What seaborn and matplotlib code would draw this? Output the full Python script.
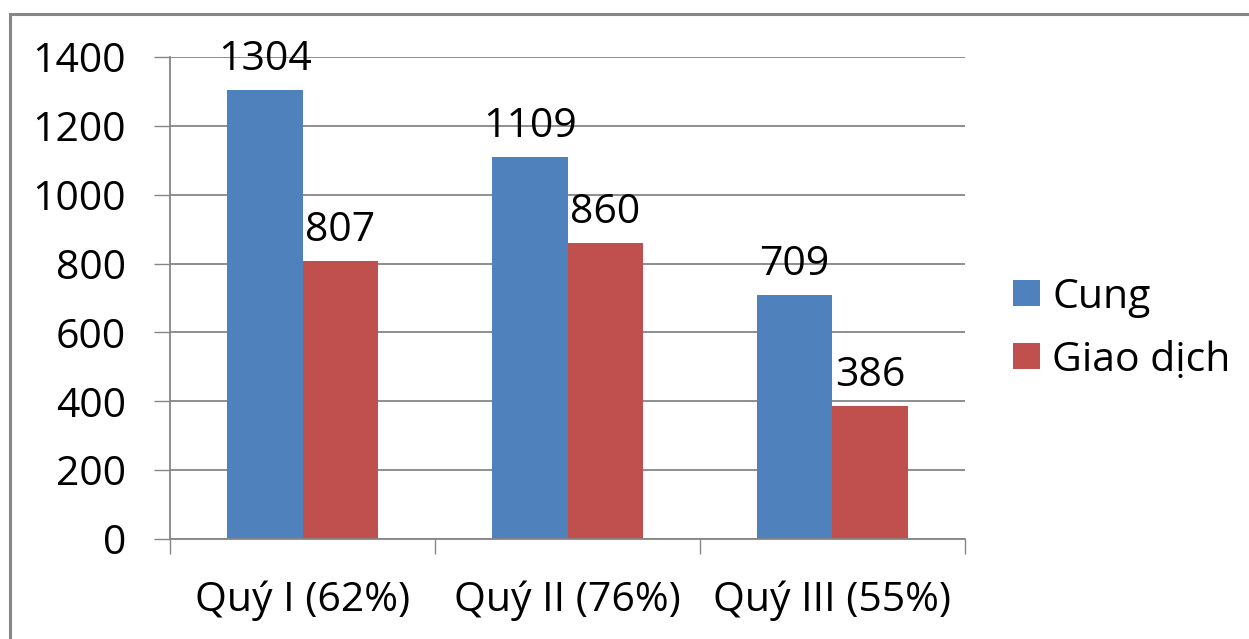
import numpy as np
import pandas as pd
import matplotlib as mplt
import matplotlib.pyplot as plt
import matplotlib.patches as mpatches
import seaborn as sns

# data
quarters = ['Quý I (62%)', 'Quý II (76%)', 'Quý III (55%)']
series = ['Cung', 'Giao dịch']
cung = [1304, 1109, 709]
giao_dich = [807, 860, 386]
colors = {'Cung': '#4F81BD', 'Giao dịch': '#C0504D'}

df = pd.DataFrame({
    'Quý': quarters * 2,
    'Loại': [series[0]] * 3 + [series[1]] * 3,
    'Số lượng': cung + giao_dich,
})

sns.set_style('white')
font_size = 29.5
mplt.rcParams['font.family'] = ['Open Sans', 'DejaVu Sans']
mplt.rcParams['font.size'] = font_size
mplt.rcParams['text.color'] = 'black'
mplt.rcParams['xtick.labelcolor'] = 'black'
mplt.rcParams['ytick.labelcolor'] = 'black'
grid_col = '#868686'

fig = plt.figure(figsize=(12.49, 6.39), dpi=100)
ax = fig.add_axes([170/1249, 1 - 539/639, (965 - 170)/1249, (539 - 57)/639])

sns.barplot(data=df, x='Quý', y='Số lượng', hue='Loại', order=quarters,
            hue_order=series, palette=colors, saturation=1, width=0.57,
            linewidth=0, ax=ax, legend=True)

for cont in ax.containers:
    ax.bar_label(cont, fmt='%d', padding=7, fontsize=font_size, color='black')

ax.set_ylim(0, 1400)
ax.set_yticks(np.arange(0, 1401, 200))
ax.set_xlim(-0.5, 2.5)
ax.set_xlabel('')
ax.set_ylabel('')
ax.yaxis.grid(True, color=grid_col, linewidth=1.3)
ax.set_axisbelow(True)

for s in ['top', 'right']:
    ax.spines[s].set_visible(False)
for s in ['left', 'bottom']:
    ax.spines[s].set_color(grid_col)
    ax.spines[s].set_linewidth(1.3)

ax.tick_params(axis='y', which='major', direction='out', length=11.5, width=1,
               color=grid_col, pad=20, left=True, labelcolor='black')
ax.tick_params(axis='x', which='major', length=0, pad=30, labelcolor='black')
ax.set_xticks([-0.5, 0.5, 1.5, 2.5], minor=True)
ax.tick_params(axis='x', which='minor', direction='out', length=11, width=1,
               color=grid_col, bottom=True)

ax.legend(loc='center left', bbox_to_anchor=(993/1249, 0.485),
          bbox_transform=fig.transFigure, frameon=False, fontsize=font_size,
          handlelength=0.65, handleheight=0.6, handletextpad=0.3,
          labelspacing=0.55, borderpad=0)

# outer chart frame
fig.patches.append(mpatches.Rectangle((10/1249, -0.1), 1.2, 1 - 14/639 + 0.1,
                                      transform=fig.transFigure, fill=False,
                                      edgecolor=grid_col, linewidth=2.2))

fig.savefig('out.png', dpi=100)
